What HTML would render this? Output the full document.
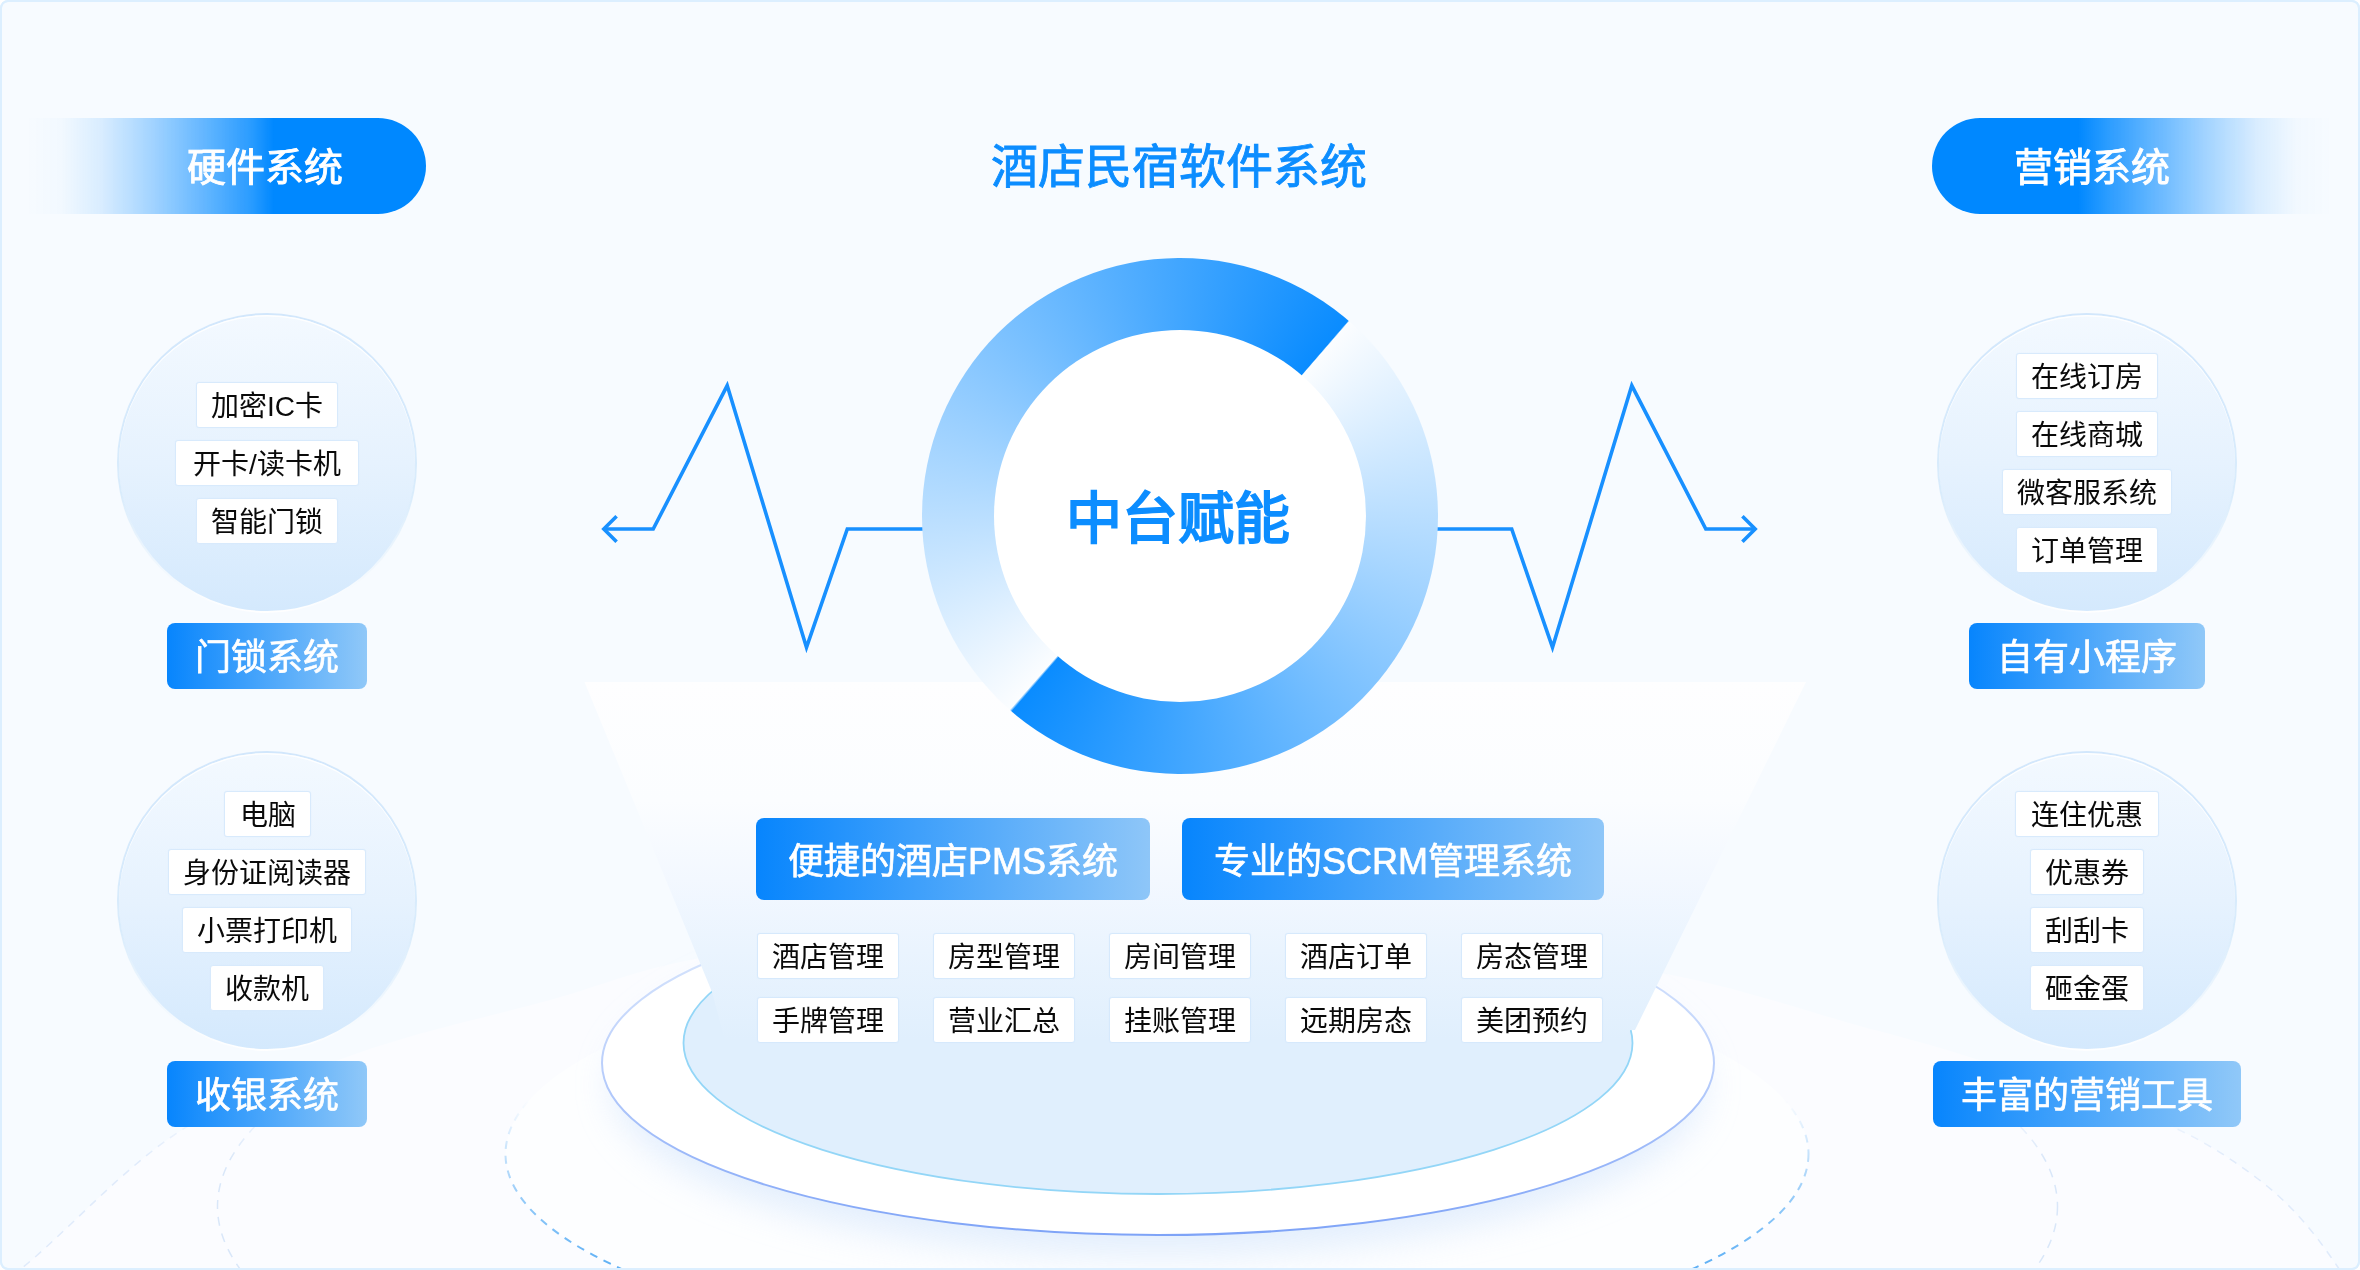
<!DOCTYPE html>
<html lang="zh-CN">
<head>
<meta charset="utf-8">
<style>
*{box-sizing:border-box;margin:0;padding:0}
html,body{width:2360px;height:1270px;overflow:hidden;background:#fff}
body{font-family:"Liberation Sans",sans-serif;position:relative;-webkit-font-smoothing:antialiased}
.item,.cell,.lab,.sys,.pill,.abs{will-change:transform}
#frame{position:absolute;left:0;top:0;width:2360px;height:1270px;border:2px solid #dcefff;border-radius:8px;background:#f7fbff;overflow:hidden}
.abs{position:absolute}
svg.full{position:absolute;left:0;top:0}
.pill{position:absolute;top:118px;height:96px;color:#fff;font-size:39px;font-weight:400;-webkit-text-stroke:0.9px #fff;line-height:96px;white-space:nowrap}
.pill span{padding-top:2px}
.pill span{position:absolute;top:0}
.circ{position:absolute;width:300px;height:300px;border-radius:50%;border:2px solid transparent;
 background:linear-gradient(180deg,#f3f9ff 0%,#e6f2fe 50%,#d4e9fd 100%) padding-box,linear-gradient(180deg,#d2e7fc 0%,#d9ecfc 60%,#ffffff 100%) border-box;
 box-shadow:inset 0 1.5px 0 rgba(255,255,255,.85)}
.item{position:absolute;height:46px;background:#fff;border:1px solid #d8eafc;box-shadow:0 0 1px #d8eafc;border-radius:3px;
 font-size:28px;line-height:48px;color:#0a0a0a;text-align:center;white-space:nowrap}
.lab{position:absolute;height:66px;border-radius:8px;color:#fff;font-size:36px;font-weight:400;-webkit-text-stroke:0.7px #fff;line-height:70px;text-align:center;white-space:nowrap;
 background:linear-gradient(90deg,#0785fd 0%,#90c8f8 100%)}
.sys{position:absolute;top:818px;height:82px;border-radius:8px;color:#fff;font-size:36px;font-weight:400;-webkit-text-stroke:0.7px #fff;line-height:87px;text-align:center;white-space:nowrap;
 background:linear-gradient(90deg,#0785fd 0%,#8ec6f8 100%)}
.cell{position:absolute;width:142px;height:46px;background:#fff;border:1px solid #d6e9fc;box-shadow:0 0 1px #d6e9fc;border-radius:3px;
 font-size:28px;line-height:48px;color:#0a0a0a;text-align:center;white-space:nowrap}
</style>
</head>
<body>
<div id="frame"></div>

<!-- background decorative shapes -->
<svg class="full" width="2360" height="1270" viewBox="0 0 2360 1270">
 <defs>
  <linearGradient id="trap" x1="0" y1="682" x2="0" y2="1040" gradientUnits="userSpaceOnUse">
   <stop offset="0" stop-color="#fefeff"/>
   <stop offset="0.33" stop-color="#fbfdff"/>
   <stop offset="0.55" stop-color="#f3f8ff"/>
   <stop offset="0.75" stop-color="#eaf4fe"/>
   <stop offset="1" stop-color="#e0effd"/>
  </linearGradient>
  <linearGradient id="midstroke" x1="0" y1="891" x2="0" y2="1235" gradientUnits="userSpaceOnUse">
   <stop offset="0" stop-color="#e3eefd"/>
   <stop offset="0.5" stop-color="#bcd0fb"/>
   <stop offset="1" stop-color="#7ea3f7"/>
  </linearGradient>
  <linearGradient id="dmg" x1="0" y1="1095" x2="0" y2="1160" gradientUnits="userSpaceOnUse"><stop offset="0" stop-color="#000"/><stop offset="1" stop-color="#fff"/></linearGradient>
  <linearGradient id="dmg2" x1="0" y1="1100" x2="0" y2="1270" gradientUnits="userSpaceOnUse"><stop offset="0" stop-color="#000"/><stop offset="0.25" stop-color="#444"/><stop offset="0.6" stop-color="#aaa"/><stop offset="1" stop-color="#fff"/></linearGradient>
  <filter id="blur20" x="-20%" y="-50%" width="140%" height="200%"><feGaussianBlur stdDeviation="18"/></filter>
 </defs>
 <mask id="dm2" maskUnits="userSpaceOnUse" x="0" y="0" width="2360" height="1270"><rect x="0" y="0" width="2360" height="1270" fill="url(#dmg2)"/></mask>
 <mask id="dm" maskUnits="userSpaceOnUse" x="0" y="0" width="2360" height="1270"><rect x="0" y="0" width="2360" height="1270" fill="url(#dmg)"/></mask>
 <!-- big white sweep -->
 <path d="M-60.0,1330.0 L-53.7,1325.3 L-47.6,1320.7 L-41.5,1316.2 L-35.4,1311.8 L-29.4,1307.4 L-23.4,1302.9 L-17.2,1298.4 L-11.1,1293.8 L-4.7,1289.0 L1.7,1284.1 L8.4,1278.9 L15.3,1273.5 L22.4,1267.8 L33.0,1258.9 L44.0,1249.1 L55.4,1238.6 L67.2,1227.5 L79.2,1216.1 L91.5,1204.4 L104.1,1192.6 L116.8,1180.9 L129.8,1169.5 L142.8,1158.5 L156.0,1148.0 L169.2,1138.3 L182.5,1129.4 L195.2,1121.7 L208.1,1114.4 L221.2,1107.6 L234.4,1101.1 L247.8,1095.0 L261.3,1089.1 L274.9,1083.6 L288.6,1078.2 L302.3,1073.0 L316.2,1067.9 L330.1,1062.9 L344.0,1057.9 L358.0,1053.0 L372.4,1048.1 L387.1,1043.4 L401.9,1038.9 L416.9,1034.6 L432.0,1030.5 L447.1,1026.5 L462.2,1022.6 L477.3,1018.8 L492.2,1015.1 L507.0,1011.3 L521.6,1007.6 L536.0,1003.8 L550.0,1000.0 L561.9,996.6 L573.2,993.2 L584.1,989.7 L594.6,986.3 L605.0,982.9 L615.4,979.6 L625.9,976.3 L636.7,973.0 L647.9,969.8 L659.7,966.7 L672.2,963.7 L685.6,960.8 L700.0,958.0 L727.9,953.1 L758.7,948.2 L791.9,943.3 L827.3,938.6 L864.5,934.0 L903.1,929.7 L942.6,925.9 L982.8,922.4 L1023.2,919.5 L1063.5,917.2 L1103.4,915.7 L1142.3,914.9 L1180.0,915.0 L1217.7,916.1 L1256.4,918.1 L1295.9,920.9 L1335.7,924.5 L1375.6,928.7 L1415.3,933.4 L1454.6,938.6 L1493.0,944.1 L1530.4,949.9 L1566.3,955.8 L1600.6,961.7 L1633.0,967.5 L1663.0,973.2 L1681.3,976.9 L1699.0,980.8 L1716.0,984.9 L1732.5,989.1 L1748.4,993.4 L1763.8,997.7 L1778.7,1002.0 L1793.2,1006.3 L1807.3,1010.5 L1820.9,1014.7 L1834.3,1018.6 L1847.3,1022.4 L1860.0,1026.0 L1868.7,1028.4 L1876.9,1030.6 L1884.6,1032.6 L1892.1,1034.6 L1899.3,1036.5 L1906.3,1038.4 L1913.3,1040.4 L1920.4,1042.3 L1927.6,1044.3 L1935.1,1046.5 L1942.9,1048.8 L1951.2,1051.3 L1960.0,1054.0 L1974.2,1058.4 L1989.8,1063.3 L2006.5,1068.4 L2024.0,1073.9 L2042.1,1079.7 L2060.5,1085.6 L2078.9,1091.7 L2097.0,1097.9 L2114.7,1104.0 L2131.5,1110.2 L2147.4,1116.3 L2161.9,1122.2 L2174.8,1127.9 L2182.1,1131.4 L2189.0,1134.8 L2195.6,1138.2 L2201.8,1141.7 L2207.8,1145.1 L2213.6,1148.5 L2219.1,1151.9 L2224.5,1155.3 L2229.7,1158.8 L2234.8,1162.2 L2239.8,1165.7 L2244.7,1169.2 L2249.6,1172.7 L2253.6,1175.6 L2257.4,1178.5 L2261.1,1181.3 L2264.7,1184.2 L2268.2,1187.0 L2271.6,1189.9 L2275.0,1192.8 L2278.3,1195.7 L2281.5,1198.7 L2284.8,1201.8 L2288.0,1205.0 L2291.2,1208.2 L2294.5,1211.6 L2298.0,1215.4 L2301.5,1219.3 L2305.0,1223.2 L2308.4,1227.3 L2311.8,1231.4 L2315.1,1235.6 L2318.5,1239.9 L2321.7,1244.3 L2325.0,1248.7 L2328.2,1253.2 L2331.4,1257.7 L2334.6,1262.3 L2337.8,1267.0 L2341.2,1272.2 L2344.6,1277.5 L2347.9,1283.0 L2351.2,1288.5 L2354.4,1294.1 L2357.6,1299.8 L2360.8,1305.6 L2364.0,1311.3 L2367.2,1317.1 L2370.4,1322.9 L2373.6,1328.6 L2376.8,1334.3 L2380.0,1340.0 L2400,1400 L-60,1400 Z" fill="#fbfcff"/>
 <path d="M-60.0,1330.0 L-53.7,1325.3 L-47.6,1320.7 L-41.5,1316.2 L-35.4,1311.8 L-29.4,1307.4 L-23.4,1302.9 L-17.2,1298.4 L-11.1,1293.8 L-4.7,1289.0 L1.7,1284.1 L8.4,1278.9 L15.3,1273.5 L22.4,1267.8 L33.0,1258.9 L44.0,1249.1 L55.4,1238.6 L67.2,1227.5 L79.2,1216.1 L91.5,1204.4 L104.1,1192.6 L116.8,1180.9 L129.8,1169.5 L142.8,1158.5 L156.0,1148.0 L169.2,1138.3 L182.5,1129.4 L195.2,1121.7 L208.1,1114.4 L221.2,1107.6 L234.4,1101.1 L247.8,1095.0 L261.3,1089.1 L274.9,1083.6 L288.6,1078.2 L302.3,1073.0 L316.2,1067.9 L330.1,1062.9 L344.0,1057.9 L358.0,1053.0 L372.4,1048.1 L387.1,1043.4 L401.9,1038.9 L416.9,1034.6 L432.0,1030.5 L447.1,1026.5 L462.2,1022.6 L477.3,1018.8 L492.2,1015.1 L507.0,1011.3 L521.6,1007.6 L536.0,1003.8 L550.0,1000.0 L561.9,996.6 L573.2,993.2 L584.1,989.7 L594.6,986.3 L605.0,982.9 L615.4,979.6 L625.9,976.3 L636.7,973.0 L647.9,969.8 L659.7,966.7 L672.2,963.7 L685.6,960.8 L700.0,958.0 L727.9,953.1 L758.7,948.2 L791.9,943.3 L827.3,938.6 L864.5,934.0 L903.1,929.7 L942.6,925.9 L982.8,922.4 L1023.2,919.5 L1063.5,917.2 L1103.4,915.7 L1142.3,914.9 L1180.0,915.0 L1217.7,916.1 L1256.4,918.1 L1295.9,920.9 L1335.7,924.5 L1375.6,928.7 L1415.3,933.4 L1454.6,938.6 L1493.0,944.1 L1530.4,949.9 L1566.3,955.8 L1600.6,961.7 L1633.0,967.5 L1663.0,973.2 L1681.3,976.9 L1699.0,980.8 L1716.0,984.9 L1732.5,989.1 L1748.4,993.4 L1763.8,997.7 L1778.7,1002.0 L1793.2,1006.3 L1807.3,1010.5 L1820.9,1014.7 L1834.3,1018.6 L1847.3,1022.4 L1860.0,1026.0 L1868.7,1028.4 L1876.9,1030.6 L1884.6,1032.6 L1892.1,1034.6 L1899.3,1036.5 L1906.3,1038.4 L1913.3,1040.4 L1920.4,1042.3 L1927.6,1044.3 L1935.1,1046.5 L1942.9,1048.8 L1951.2,1051.3 L1960.0,1054.0 L1974.2,1058.4 L1989.8,1063.3 L2006.5,1068.4 L2024.0,1073.9 L2042.1,1079.7 L2060.5,1085.6 L2078.9,1091.7 L2097.0,1097.9 L2114.7,1104.0 L2131.5,1110.2 L2147.4,1116.3 L2161.9,1122.2 L2174.8,1127.9 L2182.1,1131.4 L2189.0,1134.8 L2195.6,1138.2 L2201.8,1141.7 L2207.8,1145.1 L2213.6,1148.5 L2219.1,1151.9 L2224.5,1155.3 L2229.7,1158.8 L2234.8,1162.2 L2239.8,1165.7 L2244.7,1169.2 L2249.6,1172.7 L2253.6,1175.6 L2257.4,1178.5 L2261.1,1181.3 L2264.7,1184.2 L2268.2,1187.0 L2271.6,1189.9 L2275.0,1192.8 L2278.3,1195.7 L2281.5,1198.7 L2284.8,1201.8 L2288.0,1205.0 L2291.2,1208.2 L2294.5,1211.6 L2298.0,1215.4 L2301.5,1219.3 L2305.0,1223.2 L2308.4,1227.3 L2311.8,1231.4 L2315.1,1235.6 L2318.5,1239.9 L2321.7,1244.3 L2325.0,1248.7 L2328.2,1253.2 L2331.4,1257.7 L2334.6,1262.3 L2337.8,1267.0 L2341.2,1272.2 L2344.6,1277.5 L2347.9,1283.0 L2351.2,1288.5 L2354.4,1294.1 L2357.6,1299.8 L2360.8,1305.6 L2364.0,1311.3 L2367.2,1317.1 L2370.4,1322.9 L2373.6,1328.6 L2376.8,1334.3 L2380.0,1340.0 L2400,1400 L-60,1400 Z" fill="none" stroke="#e0ebfb" stroke-width="1.5" stroke-dasharray="8 7" mask="url(#dm)"/>
 <!-- faint dashed ellipse -->
 <ellipse cx="1137.5" cy="1206.5" rx="920" ry="284" fill="none" stroke="#d9e7f9" stroke-width="1.5" stroke-dasharray="9 8" mask="url(#dm)"/>
 <!-- dashed ellipse -->
 <ellipse cx="1157" cy="1154" rx="651.5" ry="201.6" fill="#fdfeff"/>
 <ellipse cx="1157" cy="1154" rx="651.5" ry="201.6" fill="none" stroke="#5caff5" stroke-width="2" stroke-dasharray="8 7" mask="url(#dm2)"/>
 <!-- middle shadow -->
 <ellipse cx="1158" cy="1085" rx="545" ry="170" fill="#d7e7fc" opacity="0.7" filter="url(#blur20)"/>
 <!-- middle ellipse -->
 <ellipse cx="1158" cy="1063" rx="556" ry="172" fill="#fff" stroke="url(#midstroke)" stroke-width="2"/>
 <!-- inner ellipse -->
 <ellipse cx="1158" cy="1043" rx="474.5" ry="151" fill="#e0effd" stroke="#93d6f7" stroke-width="1.8"/>
 <!-- trapezoid -->
 <polygon points="584.5,682 1806,682 1635,1030 1630.5,1030 1610,1060 730,1060 712,992" fill="url(#trap)"/>
</svg>

<!-- heartbeat lines -->
<svg class="full" width="2360" height="1270" viewBox="0 0 2360 1270">
 <g fill="none" stroke="#1890ff" stroke-width="3.6" stroke-linejoin="miter" stroke-miterlimit="10">
  <polyline points="1000,529 847.3,529 806.5,647.4 727.2,385.6 653.2,529 604,529"/>
  <polyline points="616.6,516.2 603.8,529 616.6,541.8"/>
  <polyline points="1360,529 1511.7,529 1552.5,647.4 1631.8,385.6 1705.8,529 1755,529"/>
  <polyline points="1742.4,516.2 1755.2,529 1742.4,541.8"/>
 </g>
</svg>

<!-- ring -->
<div class="abs" style="left:921.5px;top:258px;width:516px;height:516px;border-radius:50%;background:conic-gradient(from 41deg,#fbfdff 0deg,#0a8cff 179.7deg,#fbfdff 180.3deg,#0a8cff 359.7deg,#fbfdff 360deg)"></div>
<div class="abs" style="left:993.5px;top:330px;width:372px;height:372px;border-radius:50%;background:#fff"></div>
<div class="abs" style="left:978px;top:479px;width:400px;text-align:center;font-size:56px;font-weight:400;-webkit-text-stroke:2px #0c8dff;color:#0c8dff;line-height:80px">中台赋能</div>

<!-- title -->
<div class="abs" style="left:879px;top:132px;width:600px;text-align:center;font-size:47px;font-weight:400;-webkit-text-stroke:0.9px #0c8dff;color:#0c8dff;line-height:70px">酒店民宿软件系统</div>

<!-- pills -->
<div class="pill" style="left:25px;width:401px;border-radius:0 48px 48px 0;background:linear-gradient(90deg,rgba(0,136,255,0) 0%,rgba(0,136,255,.02) 9%,rgba(0,136,255,.12) 19%,rgba(0,136,255,.33) 31%,rgba(0,136,255,.585) 44%,rgba(0,136,255,.825) 56%,#0088ff 62%)"><span style="left:162px">硬件系统</span></div>
<div class="pill" style="left:1932px;width:401px;border-radius:48px 0 0 48px;background:linear-gradient(270deg,rgba(0,136,255,0) 0%,rgba(0,136,255,.02) 9%,rgba(0,136,255,.12) 19%,rgba(0,136,255,.33) 31%,rgba(0,136,255,.585) 44%,rgba(0,136,255,.825) 56%,#0088ff 63.5%)"><span style="left:82px">营销系统</span></div>

<!-- side circles -->
<div class="circ" style="left:117px;top:313px"></div>
<div class="circ" style="left:117px;top:751px"></div>
<div class="circ" style="left:1937px;top:313px"></div>
<div class="circ" style="left:1937px;top:751px"></div>

<!-- left top items -->
<div class="item" style="left:196px;top:382px;width:142px">加密IC卡</div>
<div class="item" style="left:175px;top:440px;width:184px">开卡/读卡机</div>
<div class="item" style="left:196px;top:498px;width:142px">智能门锁</div>
<div class="lab" style="left:167px;top:623px;width:200px">门锁系统</div>

<!-- left bottom items -->
<div class="item" style="left:224px;top:791px;width:87px">电脑</div>
<div class="item" style="left:168px;top:849px;width:198px">身份证阅读器</div>
<div class="item" style="left:182px;top:907px;width:170px">小票打印机</div>
<div class="item" style="left:210px;top:965px;width:114px">收款机</div>
<div class="lab" style="left:167px;top:1061px;width:200px">收银系统</div>

<!-- right top items -->
<div class="item" style="left:2016px;top:353px;width:142px">在线订房</div>
<div class="item" style="left:2016px;top:411px;width:142px">在线商城</div>
<div class="item" style="left:2002px;top:469px;width:170px">微客服系统</div>
<div class="item" style="left:2016px;top:527px;width:142px">订单管理</div>
<div class="lab" style="left:1969px;top:623px;width:236px">自有小程序</div>

<!-- right bottom items -->
<div class="item" style="left:2015px;top:791px;width:144px">连住优惠</div>
<div class="item" style="left:2030px;top:849px;width:114px">优惠券</div>
<div class="item" style="left:2030px;top:907px;width:114px">刮刮卡</div>
<div class="item" style="left:2030px;top:965px;width:114px">砸金蛋</div>
<div class="lab" style="left:1933px;top:1061px;width:308px">丰富的营销工具</div>

<!-- system boxes -->
<div class="sys" style="left:756px;width:394px">便捷的酒店PMS系统</div>
<div class="sys" style="left:1182px;width:422px">专业的SCRM管理系统</div>

<!-- cells -->
<div class="cell" style="left:757px;top:933px">酒店管理</div>
<div class="cell" style="left:933px;top:933px">房型管理</div>
<div class="cell" style="left:1109px;top:933px">房间管理</div>
<div class="cell" style="left:1285px;top:933px">酒店订单</div>
<div class="cell" style="left:1461px;top:933px">房态管理</div>
<div class="cell" style="left:757px;top:997px">手牌管理</div>
<div class="cell" style="left:933px;top:997px">营业汇总</div>
<div class="cell" style="left:1109px;top:997px">挂账管理</div>
<div class="cell" style="left:1285px;top:997px">远期房态</div>
<div class="cell" style="left:1461px;top:997px">美团预约</div>

<div style="position:absolute;left:0;top:0;width:2360px;height:1270px;border:2px solid #dcefff;border-radius:8px;box-shadow:0 0 0 40px #fff;pointer-events:none"></div>
</body>
</html>
